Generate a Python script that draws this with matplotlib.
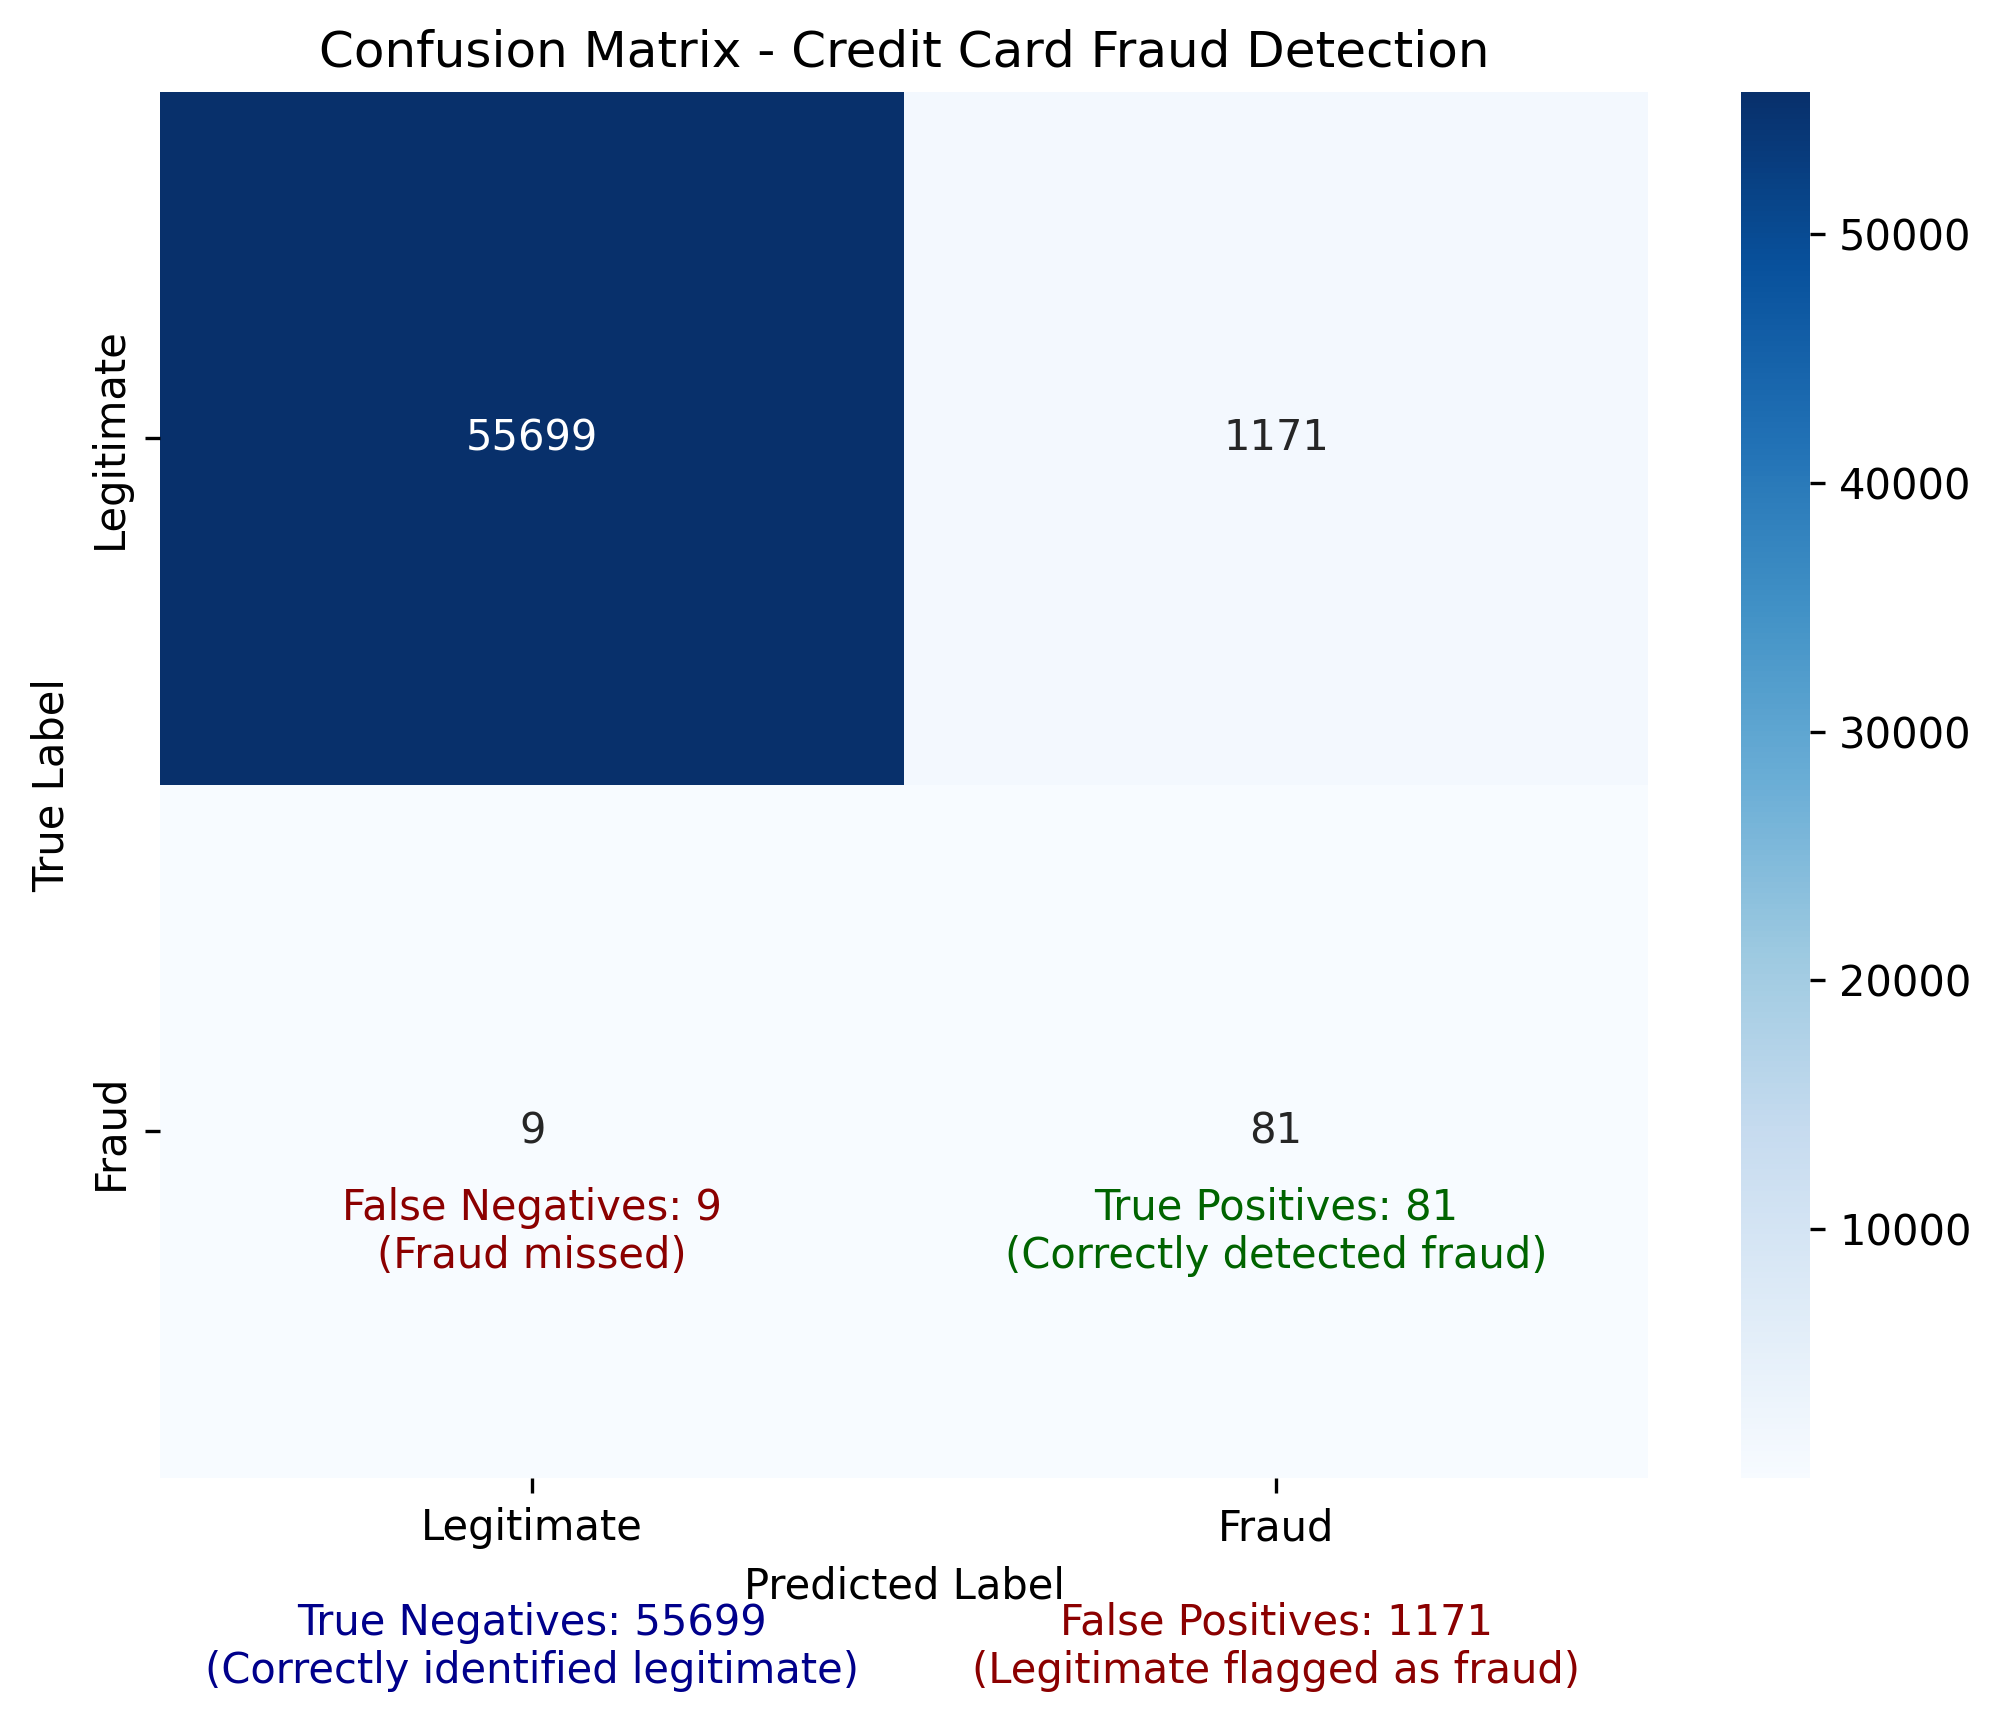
import numpy as np
import matplotlib
matplotlib.use("Agg")
import matplotlib.pyplot as plt
import seaborn as sns

# confusion matrix values
labels = ["Legitimate", "Fraud"]
tn, fp, fn, tp = 55699, 1171, 9, 81
cm = np.array([[tn, fp], [fn, tp]])

notes = [
    (0.5, 1.645, f"False Negatives: {fn}\n(Fraud missed)", "darkred"),
    (1.5, 1.645, f"True Positives: {tp}\n(Correctly detected fraud)", "darkgreen"),
    (0.5, 2.244, f"True Negatives: {tn}\n(Correctly identified legitimate)", "darkblue"),
    (1.5, 2.244, f"False Positives: {fp}\n(Legitimate flagged as fraud)", "darkred"),
]

fig = plt.figure(figsize=(2001 / 300, 1725 / 300), dpi=300)
ax = fig.add_axes([0.08, 0.1432, 0.7436, 0.8035])
cax = fig.add_axes([0.870, 0.1432, 0.0345, 0.8035])

sns.heatmap(cm, annot=True, fmt="d", cmap="Blues", ax=ax, cbar_ax=cax,
            xticklabels=labels, yticklabels=labels)

ax.set_title("Confusion Matrix - Credit Card Fraud Detection", fontsize=12)
ax.set_xlabel("Predicted Label")
ax.set_ylabel("True Label")

for x, y, txt, col in notes:
    ax.text(x, y, txt, ha="center", va="center", color=col,
            fontsize=10, clip_on=False)

fig.savefig("out.png", dpi=300)
